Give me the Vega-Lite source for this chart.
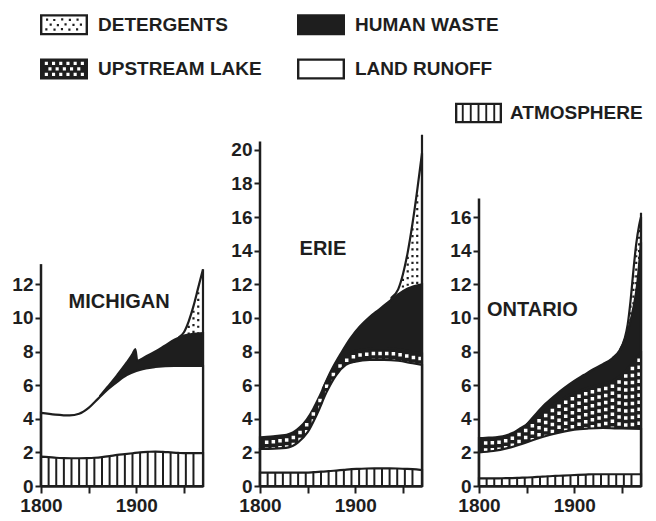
{
  "$schema": "https://vega.github.io/schema/vega-lite/v6.json",
  "background": "white",
  "padding": {"left": 11, "top": 0, "right": 5, "bottom": 5},
  "datasets": {
    "michigan": [
      {"source": "ATMOSPHERE", "year": 1800, "level": 1.75}, {"source": "ATMOSPHERE", "year": 1808, "level": 1.72},
      {"source": "ATMOSPHERE", "year": 1816, "level": 1.68}, {"source": "ATMOSPHERE", "year": 1824, "level": 1.66},
      {"source": "ATMOSPHERE", "year": 1832, "level": 1.65}, {"source": "ATMOSPHERE", "year": 1840, "level": 1.65},
      {"source": "ATMOSPHERE", "year": 1848, "level": 1.66}, {"source": "ATMOSPHERE", "year": 1856, "level": 1.68},
      {"source": "ATMOSPHERE", "year": 1864, "level": 1.72}, {"source": "ATMOSPHERE", "year": 1872, "level": 1.78},
      {"source": "ATMOSPHERE", "year": 1880, "level": 1.85}, {"source": "ATMOSPHERE", "year": 1888, "level": 1.9},
      {"source": "ATMOSPHERE", "year": 1896, "level": 1.95}, {"source": "ATMOSPHERE", "year": 1904, "level": 2.0},
      {"source": "ATMOSPHERE", "year": 1912, "level": 2.03}, {"source": "ATMOSPHERE", "year": 1920, "level": 2.05},
      {"source": "ATMOSPHERE", "year": 1928, "level": 2.03}, {"source": "ATMOSPHERE", "year": 1936, "level": 2.0},
      {"source": "ATMOSPHERE", "year": 1944, "level": 1.97}, {"source": "ATMOSPHERE", "year": 1952, "level": 1.95},
      {"source": "ATMOSPHERE", "year": 1960, "level": 1.95}, {"source": "ATMOSPHERE", "year": 1970, "level": 1.95},
      {"source": "LAND RUNOFF", "year": 1800, "level": 4.35}, {"source": "LAND RUNOFF", "year": 1815, "level": 4.25},
      {"source": "LAND RUNOFF", "year": 1830, "level": 4.2}, {"source": "LAND RUNOFF", "year": 1840, "level": 4.3},
      {"source": "LAND RUNOFF", "year": 1850, "level": 4.65}, {"source": "LAND RUNOFF", "year": 1860, "level": 5.2},
      {"source": "LAND RUNOFF", "year": 1870, "level": 5.75}, {"source": "LAND RUNOFF", "year": 1880, "level": 6.2},
      {"source": "LAND RUNOFF", "year": 1890, "level": 6.6}, {"source": "LAND RUNOFF", "year": 1900, "level": 6.85},
      {"source": "LAND RUNOFF", "year": 1910, "level": 7.0}, {"source": "LAND RUNOFF", "year": 1920, "level": 7.08},
      {"source": "LAND RUNOFF", "year": 1940, "level": 7.15}, {"source": "LAND RUNOFF", "year": 1970, "level": 7.15},
      {"source": "HUMAN WASTE", "year": 1862, "level": 5.35}, {"source": "HUMAN WASTE", "year": 1870, "level": 5.9},
      {"source": "HUMAN WASTE", "year": 1880, "level": 6.6}, {"source": "HUMAN WASTE", "year": 1890, "level": 7.35},
      {"source": "HUMAN WASTE", "year": 1896, "level": 7.85}, {"source": "HUMAN WASTE", "year": 1899, "level": 8.15},
      {"source": "HUMAN WASTE", "year": 1901, "level": 7.45}, {"source": "HUMAN WASTE", "year": 1910, "level": 7.7},
      {"source": "HUMAN WASTE", "year": 1920, "level": 8.0}, {"source": "HUMAN WASTE", "year": 1930, "level": 8.35},
      {"source": "HUMAN WASTE", "year": 1940, "level": 8.7}, {"source": "HUMAN WASTE", "year": 1950, "level": 8.95},
      {"source": "HUMAN WASTE", "year": 1960, "level": 9.05}, {"source": "HUMAN WASTE", "year": 1970, "level": 9.1},
      {"source": "DETERGENTS", "year": 1945, "level": 8.85}, {"source": "DETERGENTS", "year": 1950, "level": 9.15},
      {"source": "DETERGENTS", "year": 1955, "level": 9.8}, {"source": "DETERGENTS", "year": 1960, "level": 10.7},
      {"source": "DETERGENTS", "year": 1965, "level": 11.8}, {"source": "DETERGENTS", "year": 1970, "level": 12.9}
    ],
    "erie": [
      {"source": "ATMOSPHERE", "year": 1800, "level": 0.8}, {"source": "ATMOSPHERE", "year": 1808, "level": 0.8},
      {"source": "ATMOSPHERE", "year": 1816, "level": 0.8}, {"source": "ATMOSPHERE", "year": 1824, "level": 0.8},
      {"source": "ATMOSPHERE", "year": 1832, "level": 0.8}, {"source": "ATMOSPHERE", "year": 1840, "level": 0.8},
      {"source": "ATMOSPHERE", "year": 1848, "level": 0.8}, {"source": "ATMOSPHERE", "year": 1856, "level": 0.82},
      {"source": "ATMOSPHERE", "year": 1864, "level": 0.85}, {"source": "ATMOSPHERE", "year": 1872, "level": 0.88},
      {"source": "ATMOSPHERE", "year": 1880, "level": 0.92}, {"source": "ATMOSPHERE", "year": 1888, "level": 0.96},
      {"source": "ATMOSPHERE", "year": 1896, "level": 1.0}, {"source": "ATMOSPHERE", "year": 1904, "level": 1.02},
      {"source": "ATMOSPHERE", "year": 1912, "level": 1.04}, {"source": "ATMOSPHERE", "year": 1920, "level": 1.05},
      {"source": "ATMOSPHERE", "year": 1928, "level": 1.05}, {"source": "ATMOSPHERE", "year": 1936, "level": 1.05},
      {"source": "ATMOSPHERE", "year": 1944, "level": 1.04}, {"source": "ATMOSPHERE", "year": 1952, "level": 1.02},
      {"source": "ATMOSPHERE", "year": 1960, "level": 1.0}, {"source": "ATMOSPHERE", "year": 1970, "level": 0.95},
      {"source": "LAND RUNOFF", "year": 1800, "level": 2.2}, {"source": "LAND RUNOFF", "year": 1815, "level": 2.22},
      {"source": "LAND RUNOFF", "year": 1830, "level": 2.3}, {"source": "LAND RUNOFF", "year": 1840, "level": 2.6},
      {"source": "LAND RUNOFF", "year": 1850, "level": 3.2}, {"source": "LAND RUNOFF", "year": 1860, "level": 4.3},
      {"source": "LAND RUNOFF", "year": 1870, "level": 5.6}, {"source": "LAND RUNOFF", "year": 1880, "level": 6.6},
      {"source": "LAND RUNOFF", "year": 1890, "level": 7.2}, {"source": "LAND RUNOFF", "year": 1900, "level": 7.4},
      {"source": "LAND RUNOFF", "year": 1915, "level": 7.5}, {"source": "LAND RUNOFF", "year": 1930, "level": 7.5},
      {"source": "LAND RUNOFF", "year": 1945, "level": 7.45}, {"source": "LAND RUNOFF", "year": 1960, "level": 7.3},
      {"source": "LAND RUNOFF", "year": 1970, "level": 7.2},
      {"source": "UPSTREAM LAKE", "year": 1800, "level": 2.9}, {"source": "UPSTREAM LAKE", "year": 1807, "level": 2.92},
      {"source": "UPSTREAM LAKE", "year": 1814, "level": 2.95}, {"source": "UPSTREAM LAKE", "year": 1821, "level": 3.0},
      {"source": "UPSTREAM LAKE", "year": 1828, "level": 3.05}, {"source": "UPSTREAM LAKE", "year": 1835, "level": 3.2},
      {"source": "UPSTREAM LAKE", "year": 1842, "level": 3.5}, {"source": "UPSTREAM LAKE", "year": 1849, "level": 3.95},
      {"source": "UPSTREAM LAKE", "year": 1856, "level": 4.6}, {"source": "UPSTREAM LAKE", "year": 1863, "level": 5.4},
      {"source": "UPSTREAM LAKE", "year": 1870, "level": 6.25}, {"source": "UPSTREAM LAKE", "year": 1877, "level": 6.95},
      {"source": "UPSTREAM LAKE", "year": 1884, "level": 7.45}, {"source": "UPSTREAM LAKE", "year": 1891, "level": 7.8},
      {"source": "UPSTREAM LAKE", "year": 1898, "level": 8.0}, {"source": "UPSTREAM LAKE", "year": 1905, "level": 8.1},
      {"source": "UPSTREAM LAKE", "year": 1912, "level": 8.15}, {"source": "UPSTREAM LAKE", "year": 1919, "level": 8.2},
      {"source": "UPSTREAM LAKE", "year": 1926, "level": 8.2}, {"source": "UPSTREAM LAKE", "year": 1933, "level": 8.2},
      {"source": "UPSTREAM LAKE", "year": 1940, "level": 8.18}, {"source": "UPSTREAM LAKE", "year": 1947, "level": 8.12},
      {"source": "UPSTREAM LAKE", "year": 1954, "level": 8.05}, {"source": "UPSTREAM LAKE", "year": 1961, "level": 7.95},
      {"source": "UPSTREAM LAKE", "year": 1968, "level": 7.9}, {"source": "UPSTREAM LAKE", "year": 1970, "level": 7.88},
      {"source": "HUMAN WASTE", "year": 1866, "level": 5.8}, {"source": "HUMAN WASTE", "year": 1875, "level": 6.9},
      {"source": "HUMAN WASTE", "year": 1885, "level": 7.9}, {"source": "HUMAN WASTE", "year": 1895, "level": 8.8},
      {"source": "HUMAN WASTE", "year": 1905, "level": 9.5}, {"source": "HUMAN WASTE", "year": 1915, "level": 10.05},
      {"source": "HUMAN WASTE", "year": 1925, "level": 10.5}, {"source": "HUMAN WASTE", "year": 1935, "level": 10.95},
      {"source": "HUMAN WASTE", "year": 1945, "level": 11.4}, {"source": "HUMAN WASTE", "year": 1955, "level": 11.75},
      {"source": "HUMAN WASTE", "year": 1970, "level": 12.0},
      {"source": "DETERGENTS", "year": 1938, "level": 11.2}, {"source": "DETERGENTS", "year": 1945, "level": 11.7},
      {"source": "DETERGENTS", "year": 1950, "level": 12.6}, {"source": "DETERGENTS", "year": 1955, "level": 13.9},
      {"source": "DETERGENTS", "year": 1960, "level": 15.6}, {"source": "DETERGENTS", "year": 1965, "level": 17.6},
      {"source": "DETERGENTS", "year": 1970, "level": 19.8}
    ],
    "ontario": [
      {"source": "ATMOSPHERE", "year": 1800, "level": 0.45}, {"source": "ATMOSPHERE", "year": 1808, "level": 0.45},
      {"source": "ATMOSPHERE", "year": 1816, "level": 0.45}, {"source": "ATMOSPHERE", "year": 1824, "level": 0.46},
      {"source": "ATMOSPHERE", "year": 1832, "level": 0.47}, {"source": "ATMOSPHERE", "year": 1840, "level": 0.48},
      {"source": "ATMOSPHERE", "year": 1848, "level": 0.5}, {"source": "ATMOSPHERE", "year": 1856, "level": 0.52},
      {"source": "ATMOSPHERE", "year": 1864, "level": 0.55}, {"source": "ATMOSPHERE", "year": 1872, "level": 0.58},
      {"source": "ATMOSPHERE", "year": 1880, "level": 0.6}, {"source": "ATMOSPHERE", "year": 1888, "level": 0.62},
      {"source": "ATMOSPHERE", "year": 1896, "level": 0.64}, {"source": "ATMOSPHERE", "year": 1904, "level": 0.66},
      {"source": "ATMOSPHERE", "year": 1912, "level": 0.68}, {"source": "ATMOSPHERE", "year": 1920, "level": 0.7},
      {"source": "ATMOSPHERE", "year": 1928, "level": 0.7}, {"source": "ATMOSPHERE", "year": 1936, "level": 0.7},
      {"source": "ATMOSPHERE", "year": 1944, "level": 0.7}, {"source": "ATMOSPHERE", "year": 1952, "level": 0.7},
      {"source": "ATMOSPHERE", "year": 1960, "level": 0.7}, {"source": "ATMOSPHERE", "year": 1970, "level": 0.7},
      {"source": "LAND RUNOFF", "year": 1800, "level": 2.0}, {"source": "LAND RUNOFF", "year": 1815, "level": 2.08},
      {"source": "LAND RUNOFF", "year": 1830, "level": 2.25}, {"source": "LAND RUNOFF", "year": 1845, "level": 2.5},
      {"source": "LAND RUNOFF", "year": 1860, "level": 2.8}, {"source": "LAND RUNOFF", "year": 1875, "level": 3.05},
      {"source": "LAND RUNOFF", "year": 1890, "level": 3.25}, {"source": "LAND RUNOFF", "year": 1900, "level": 3.35},
      {"source": "LAND RUNOFF", "year": 1915, "level": 3.42}, {"source": "LAND RUNOFF", "year": 1930, "level": 3.45},
      {"source": "LAND RUNOFF", "year": 1950, "level": 3.42}, {"source": "LAND RUNOFF", "year": 1970, "level": 3.4},
      {"source": "UPSTREAM LAKE", "year": 1800, "level": 2.85}, {"source": "UPSTREAM LAKE", "year": 1807, "level": 2.87},
      {"source": "UPSTREAM LAKE", "year": 1814, "level": 2.88}, {"source": "UPSTREAM LAKE", "year": 1821, "level": 2.92},
      {"source": "UPSTREAM LAKE", "year": 1828, "level": 3.0}, {"source": "UPSTREAM LAKE", "year": 1835, "level": 3.15},
      {"source": "UPSTREAM LAKE", "year": 1842, "level": 3.38}, {"source": "UPSTREAM LAKE", "year": 1849, "level": 3.62},
      {"source": "UPSTREAM LAKE", "year": 1856, "level": 3.9}, {"source": "UPSTREAM LAKE", "year": 1863, "level": 4.2},
      {"source": "UPSTREAM LAKE", "year": 1870, "level": 4.5}, {"source": "UPSTREAM LAKE", "year": 1877, "level": 4.8},
      {"source": "UPSTREAM LAKE", "year": 1884, "level": 5.05}, {"source": "UPSTREAM LAKE", "year": 1891, "level": 5.3},
      {"source": "UPSTREAM LAKE", "year": 1898, "level": 5.5}, {"source": "UPSTREAM LAKE", "year": 1905, "level": 5.65},
      {"source": "UPSTREAM LAKE", "year": 1912, "level": 5.8}, {"source": "UPSTREAM LAKE", "year": 1919, "level": 5.92},
      {"source": "UPSTREAM LAKE", "year": 1926, "level": 6.02}, {"source": "UPSTREAM LAKE", "year": 1933, "level": 6.12},
      {"source": "UPSTREAM LAKE", "year": 1940, "level": 6.25}, {"source": "UPSTREAM LAKE", "year": 1947, "level": 6.5},
      {"source": "UPSTREAM LAKE", "year": 1954, "level": 6.85}, {"source": "UPSTREAM LAKE", "year": 1961, "level": 7.3},
      {"source": "UPSTREAM LAKE", "year": 1968, "level": 7.8}, {"source": "UPSTREAM LAKE", "year": 1970, "level": 7.9},
      {"source": "HUMAN WASTE", "year": 1850, "level": 3.65}, {"source": "HUMAN WASTE", "year": 1860, "level": 4.3},
      {"source": "HUMAN WASTE", "year": 1870, "level": 4.9}, {"source": "HUMAN WASTE", "year": 1880, "level": 5.4},
      {"source": "HUMAN WASTE", "year": 1890, "level": 5.85}, {"source": "HUMAN WASTE", "year": 1900, "level": 6.25},
      {"source": "HUMAN WASTE", "year": 1910, "level": 6.6}, {"source": "HUMAN WASTE", "year": 1920, "level": 6.95},
      {"source": "HUMAN WASTE", "year": 1930, "level": 7.25}, {"source": "HUMAN WASTE", "year": 1940, "level": 7.6},
      {"source": "HUMAN WASTE", "year": 1948, "level": 8.1}, {"source": "HUMAN WASTE", "year": 1953, "level": 8.7},
      {"source": "HUMAN WASTE", "year": 1958, "level": 9.6}, {"source": "HUMAN WASTE", "year": 1962, "level": 10.6},
      {"source": "HUMAN WASTE", "year": 1966, "level": 12.0}, {"source": "HUMAN WASTE", "year": 1970, "level": 14.5},
      {"source": "DETERGENTS", "year": 1948, "level": 8.1}, {"source": "DETERGENTS", "year": 1953, "level": 8.8},
      {"source": "DETERGENTS", "year": 1956, "level": 9.6}, {"source": "DETERGENTS", "year": 1959, "level": 11.0},
      {"source": "DETERGENTS", "year": 1962, "level": 12.8}, {"source": "DETERGENTS", "year": 1965, "level": 14.4},
      {"source": "DETERGENTS", "year": 1968, "level": 15.5}, {"source": "DETERGENTS", "year": 1970, "level": 16.0}
    ]
  },
  "spacing": 57,
  "bounds": "flush",
  "hconcat": [
    {
      "width": 162,
      "height": 353,
      "layer": [
        {
          "data": {"name": "michigan"},
          "encoding": {
            "x": {"field": "year", "type": "quantitative", "scale": {"domain": [1800, 1970], "nice": false, "zero": false},
                  "axis": {"values": [1800, 1850, 1900, 1950], "tickCount": 20, "format": "d", "labelExpr": "datum.value % 100 === 0 ? datum.label : ''", "title": null, "labelFlush": false, "labelOverlap": false}},
            "y": {"field": "level", "type": "quantitative", "scale": {"domain": [0, 21], "nice": false},
                  "axis": {"values": [0, 2, 4, 6, 8, 10, 12], "tickCount": 30, "format": "d", "title": null, "domain": false, "labelOverlap": false}}
          },
          "layer": [
            {"transform": [{"filter": "datum.source === 'DETERGENTS'"}],
             "mark": {"type": "area", "interpolate": "monotone", "fill": "white", "stroke": "#1e1e1e", "strokeWidth": 2.2}},
            {"transform": [{"filter": "datum.source === 'DETERGENTS' && datum.year < 1970"}],
             "mark": {"type": "rule", "stroke": "#1e1e1e", "strokeWidth": 2.2, "strokeDash": [2.2, 4.5], "strokeDashOffset": 2.2},
             "encoding": {"y2": {"datum": 0}}},
            {"transform": [{"filter": "datum.source === 'HUMAN WASTE'"}],
             "mark": {"type": "area", "interpolate": "monotone", "fill": "#1e1e1e", "stroke": "#1e1e1e", "strokeWidth": 2.2}},
            {"transform": [{"filter": "datum.source === 'LAND RUNOFF'"}],
             "mark": {"type": "area", "interpolate": "monotone", "fill": "white", "stroke": "#1e1e1e", "strokeWidth": 2.2}},
            {"transform": [{"filter": "datum.source === 'ATMOSPHERE'"}],
             "mark": {"type": "area", "interpolate": "monotone", "fill": "white", "stroke": "#1e1e1e", "strokeWidth": 2.2}},
            {"transform": [{"filter": "datum.source === 'ATMOSPHERE'"}],
             "mark": {"type": "rule", "stroke": "#1e1e1e", "strokeWidth": 2},
             "encoding": {"y2": {"datum": 0}}}
          ]
        },
        {"data": {"values": [{}]}, "mark": {"type": "rule", "stroke": "#1e1e1e", "strokeWidth": 2.5},
         "encoding": {"x": {"datum": 1800}, "y": {"datum": 0}, "y2": {"datum": 13.2}}},
        {"data": {"values": [{}]}, "mark": {"type": "text", "text": "MICHIGAN", "font": "Liberation Sans", "fontSize": 20, "fontWeight": "bold", "fill": "#1e1e1e", "align": "center", "baseline": "middle"},
         "encoding": {"x": {"datum": 1882}, "y": {"datum": 10.95}}},
        {"data": {"values": [{"source": "DETERGENTS"}, {"source": "UPSTREAM LAKE"}, {"source": "HUMAN WASTE"}, {"source": "LAND RUNOFF"}]},
         "mark": {"type": "point", "filled": true, "opacity": 0, "size": 2304, "color": "#1e1e1e"},
         "encoding": {
           "shape": {"field": "source", "type": "nominal",
             "scale": {
               "domain": ["DETERGENTS", "UPSTREAM LAKE", "HUMAN WASTE", "LAND RUNOFF"],
               "range": [
                 "M-1,-0.44H1V0.44H-1Z M-0.9,-0.34V0.34H0.9V-0.34Z M-0.75,-0.26h0.09v0.09h-0.09Z M-0.45,-0.24h0.09v0.09h-0.09Z M-0.12,-0.27h0.09v0.09h-0.09Z M0.2,-0.25h0.09v0.09h-0.09Z M0.52,-0.26h0.09v0.09h-0.09Z M-0.6,-0.05h0.09v0.09h-0.09Z M-0.3,-0.03h0.09v0.09h-0.09Z M0.02,-0.06h0.09v0.09h-0.09Z M0.35,-0.04h0.09v0.09h-0.09Z M0.66,-0.05h0.09v0.09h-0.09Z M-0.78,0.15h0.09v0.09h-0.09Z M-0.44,0.16h0.09v0.09h-0.09Z M-0.13,0.14h0.09v0.09h-0.09Z M0.18,0.16h0.09v0.09h-0.09Z M0.5,0.15h0.09v0.09h-0.09Z",
                 "M-1,-0.44H1V0.44H-1Z M-0.8,-0.3v0.13h0.13v-0.13Z M-0.5,-0.3v0.13h0.13v-0.13Z M-0.2,-0.3v0.13h0.13v-0.13Z M0.1,-0.3v0.13h0.13v-0.13Z M0.4,-0.3v0.13h0.13v-0.13Z M0.7,-0.3v0.13h0.13v-0.13Z M-0.65,-0.07v0.13h0.13v-0.13Z M-0.35,-0.07v0.13h0.13v-0.13Z M-0.05,-0.07v0.13h0.13v-0.13Z M0.25,-0.07v0.13h0.13v-0.13Z M0.55,-0.07v0.13h0.13v-0.13Z M-0.8,0.16v0.13h0.13v-0.13Z M-0.5,0.16v0.13h0.13v-0.13Z M-0.2,0.16v0.13h0.13v-0.13Z M0.1,0.16v0.13h0.13v-0.13Z M0.4,0.16v0.13h0.13v-0.13Z M0.7,0.16v0.13h0.13v-0.13Z",
                 "M-1,-0.44H1V0.44H-1Z",
                 "M-1,-0.44H1V0.44H-1Z M-0.9,-0.34V0.34H0.9V-0.34Z"
               ]
             },
             "legend": {"orient": "none", "legendX": -1, "legendY": -132.5, "columns": 2, "columnPadding": 35, "rowPadding": 9.5, "gridAlign": "each",
                        "symbolSize": 2304, "labelOffset": 10, "symbolFillColor": "#1e1e1e", "symbolStrokeWidth": 0, "symbolOpacity": 1, "title": null}
           }
         }},
        {"data": {"values": [{"source": "ATMOSPHERE"}]},
         "mark": {"type": "point", "filled": true, "opacity": 0, "size": 2209},
         "encoding": {
           "fill": {"field": "source", "type": "nominal", "scale": {"range": ["#1e1e1e"]},
             "legend": {"orient": "none", "legendX": 414, "legendY": -43.5, "symbolSize": 2209, "labelOffset": 8, "symbolStrokeWidth": 0, "symbolOpacity": 1, "title": null,
                        "symbolType": "M-1,-0.44H1V0.44H-1Z M-0.9,-0.34V0.34H0.9V-0.34Z M-0.71,-0.34h0.08V0.34h-0.08Z M-0.37,-0.34h0.08V0.34h-0.08Z M-0.04,-0.34h0.08V0.34h-0.08Z M0.29,-0.34h0.08V0.34h-0.08Z M0.63,-0.34h0.08V0.34h-0.08Z"}
           }
         }}
      ]
    },
    {
      "width": 162,
      "height": 353,
      "layer": [
        {
          "data": {"name": "erie"},
          "encoding": {
            "x": {"field": "year", "type": "quantitative", "scale": {"domain": [1800, 1970], "nice": false, "zero": false},
                  "axis": {"values": [1800, 1850, 1900, 1950], "tickCount": 20, "format": "d", "labelExpr": "datum.value % 100 === 0 ? datum.label : ''", "title": null, "labelFlush": false, "labelOverlap": false}},
            "y": {"field": "level", "type": "quantitative", "scale": {"domain": [0, 21], "nice": false},
                  "axis": {"values": [0, 2, 4, 6, 8, 10, 12, 14, 16, 18, 20], "tickCount": 30, "format": "d", "title": null, "domain": false, "labelOverlap": false}}
          },
          "layer": [
            {"transform": [{"filter": "datum.source === 'DETERGENTS'"}],
             "mark": {"type": "area", "interpolate": "monotone", "fill": "white", "stroke": "#1e1e1e", "strokeWidth": 2.2}},
            {"transform": [{"filter": "datum.source === 'DETERGENTS' && datum.year < 1970"}],
             "mark": {"type": "rule", "stroke": "#1e1e1e", "strokeWidth": 2.2, "strokeDash": [2.2, 4.5], "strokeDashOffset": 2.2},
             "encoding": {"y2": {"datum": 0}}},
            {"transform": [{"filter": "datum.source === 'HUMAN WASTE'"}],
             "mark": {"type": "area", "interpolate": "monotone", "fill": "#1e1e1e", "stroke": "#1e1e1e", "strokeWidth": 2.2}},
            {"transform": [{"filter": "datum.source === 'UPSTREAM LAKE'"}],
             "mark": {"type": "area", "interpolate": "monotone", "fill": "#1e1e1e", "stroke": "#1e1e1e", "strokeWidth": 2.2}},
            {"transform": [{"filter": "datum.source === 'UPSTREAM LAKE' && datum.year > 1800 && datum.year < 1970"}],
             "mark": {"type": "rule", "stroke": "white", "strokeWidth": 3.5, "strokeDash": [3.5, 3.5], "strokeDashOffset": 3.5},
             "encoding": {"y2": {"datum": 0}}},
            {"transform": [{"filter": "datum.source === 'LAND RUNOFF'"}],
             "mark": {"type": "area", "interpolate": "monotone", "fill": "white", "stroke": "#1e1e1e", "strokeWidth": 2.2}},
            {"transform": [{"filter": "datum.source === 'ATMOSPHERE'"}],
             "mark": {"type": "area", "interpolate": "monotone", "fill": "white", "stroke": "#1e1e1e", "strokeWidth": 2.2}},
            {"transform": [{"filter": "datum.source === 'ATMOSPHERE'"}],
             "mark": {"type": "rule", "stroke": "#1e1e1e", "strokeWidth": 2},
             "encoding": {"y2": {"datum": 0}}}
          ]
        },
        {"data": {"values": [{}]}, "mark": {"type": "rule", "stroke": "#1e1e1e", "strokeWidth": 2.5},
         "encoding": {"x": {"datum": 1800}, "y": {"datum": 0}, "y2": {"datum": 20.5}}},
        {"data": {"values": [{}]}, "mark": {"type": "rule", "stroke": "#1e1e1e", "strokeWidth": 2.2},
         "encoding": {"x": {"datum": 1970}, "y": {"datum": 0}, "y2": {"datum": 20.9}}},
        {"data": {"values": [{}]}, "mark": {"type": "text", "text": "ERIE", "font": "Liberation Sans", "fontSize": 20, "fontWeight": "bold", "fill": "#1e1e1e", "align": "center", "baseline": "middle"},
         "encoding": {"x": {"datum": 1866}, "y": {"datum": 14.1}}}
      ]
    },
    {
      "width": 162,
      "height": 353,
      "layer": [
        {
          "data": {"name": "ontario"},
          "encoding": {
            "x": {"field": "year", "type": "quantitative", "scale": {"domain": [1800, 1970], "nice": false, "zero": false},
                  "axis": {"values": [1800, 1850, 1900, 1950], "tickCount": 20, "format": "d", "labelExpr": "datum.value % 100 === 0 ? datum.label : ''", "title": null, "labelFlush": false, "labelOverlap": false}},
            "y": {"field": "level", "type": "quantitative", "scale": {"domain": [0, 21], "nice": false},
                  "axis": {"values": [0, 2, 4, 6, 8, 10, 12, 14, 16], "tickCount": 30, "format": "d", "title": null, "domain": false, "labelOverlap": false}}
          },
          "layer": [
            {"transform": [{"filter": "datum.source === 'DETERGENTS'"}],
             "mark": {"type": "area", "interpolate": "monotone", "fill": "white", "stroke": "#1e1e1e", "strokeWidth": 2.2}},
            {"transform": [{"filter": "datum.source === 'DETERGENTS' && datum.year < 1970"}],
             "mark": {"type": "rule", "stroke": "#1e1e1e", "strokeWidth": 2.2, "strokeDash": [2.2, 4.5], "strokeDashOffset": 2.2},
             "encoding": {"y2": {"datum": 0}}},
            {"transform": [{"filter": "datum.source === 'HUMAN WASTE'"}],
             "mark": {"type": "area", "interpolate": "monotone", "fill": "#1e1e1e", "stroke": "#1e1e1e", "strokeWidth": 2.2}},
            {"transform": [{"filter": "datum.source === 'UPSTREAM LAKE'"}],
             "mark": {"type": "area", "interpolate": "monotone", "fill": "#1e1e1e", "stroke": "#1e1e1e", "strokeWidth": 2.2}},
            {"transform": [{"filter": "datum.source === 'UPSTREAM LAKE' && datum.year > 1800 && datum.year < 1970"}],
             "mark": {"type": "rule", "stroke": "white", "strokeWidth": 3.5, "strokeDash": [3.5, 3.5], "strokeDashOffset": 3.5},
             "encoding": {"y2": {"datum": 0}}},
            {"transform": [{"filter": "datum.source === 'LAND RUNOFF'"}],
             "mark": {"type": "area", "interpolate": "monotone", "fill": "white", "stroke": "#1e1e1e", "strokeWidth": 2.2}},
            {"transform": [{"filter": "datum.source === 'ATMOSPHERE'"}],
             "mark": {"type": "area", "interpolate": "monotone", "fill": "white", "stroke": "#1e1e1e", "strokeWidth": 2.2}},
            {"transform": [{"filter": "datum.source === 'ATMOSPHERE'"}],
             "mark": {"type": "rule", "stroke": "#1e1e1e", "strokeWidth": 2},
             "encoding": {"y2": {"datum": 0}}}
          ]
        },
        {"data": {"values": [{}]}, "mark": {"type": "rule", "stroke": "#1e1e1e", "strokeWidth": 2.5},
         "encoding": {"x": {"datum": 1800}, "y": {"datum": 0}, "y2": {"datum": 17.1}}},
        {"data": {"values": [{}]}, "mark": {"type": "rule", "stroke": "#1e1e1e", "strokeWidth": 2.2},
         "encoding": {"x": {"datum": 1970}, "y": {"datum": 0}, "y2": {"datum": 16.25}}},
        {"data": {"values": [{}]}, "mark": {"type": "text", "text": "ONTARIO", "font": "Liberation Sans", "fontSize": 20, "fontWeight": "bold", "fill": "#1e1e1e", "align": "center", "baseline": "middle"},
         "encoding": {"x": {"datum": 1856}, "y": {"datum": 10.5}}}
      ]
    }
  ],
  "config": {
    "view": {"stroke": null},
    "font": "Liberation Sans",
    "axis": {
      "grid": false,
      "labelFont": "Liberation Sans", "labelFontSize": 19, "labelFontWeight": "bold", "labelColor": "#1e1e1e",
      "labelOverlap": false,
      "domainColor": "#1e1e1e", "domainWidth": 2.5,
      "tickColor": "#1e1e1e", "tickWidth": 2
    },
    "axisX": {"tickSize": 7, "labelPadding": 3},
    "axisY": {"tickSize": 6, "labelPadding": 2},
    "legend": {
      "labelFont": "Liberation Sans", "labelFontSize": 19, "labelFontWeight": "bold", "labelColor": "#1e1e1e", "labelLimit": 400
    }
  }
}
